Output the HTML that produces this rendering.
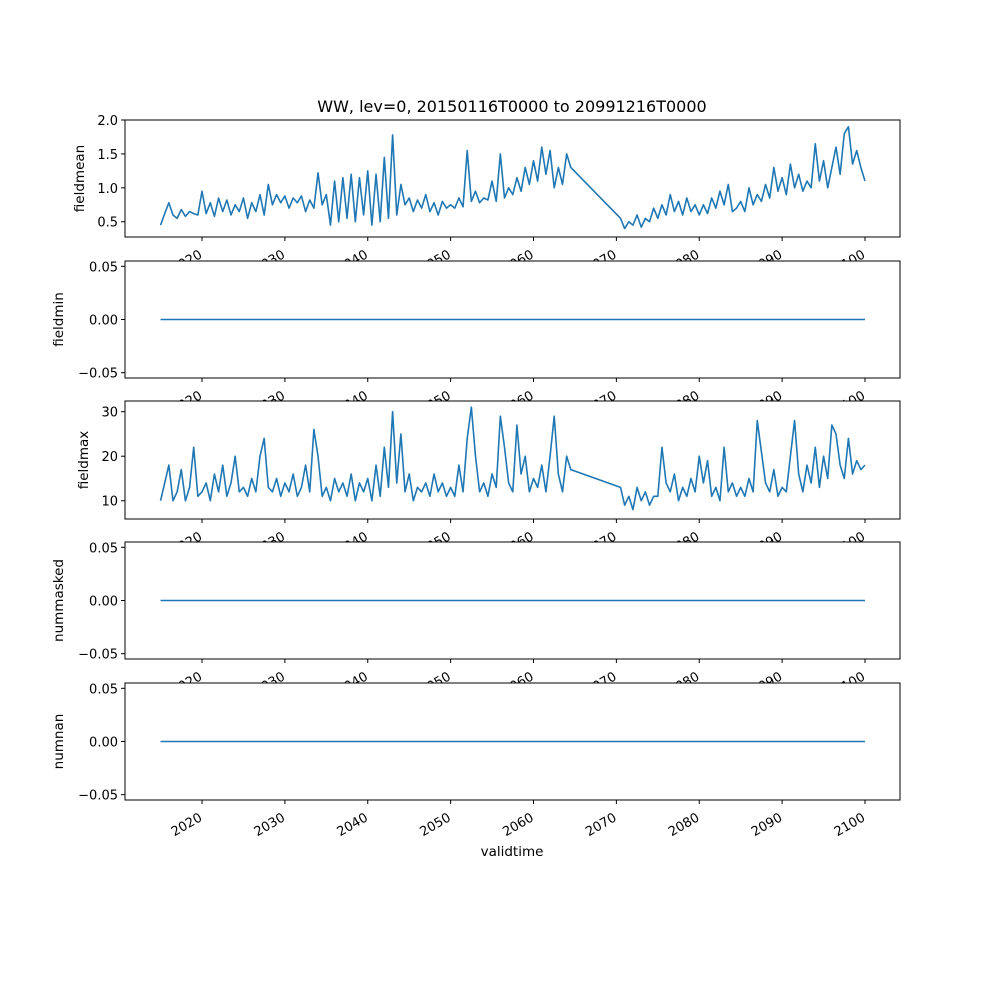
<!DOCTYPE html>
<html><head><meta charset="utf-8"><style>body{margin:0;background:#fff}svg text{font-family:"DejaVu Sans","Liberation Sans",sans-serif}</style></head>
<body>
<svg id="fig" width="1000" height="1000" viewBox="0 0 1000 1000" xmlns="http://www.w3.org/2000/svg">
<rect width="1000" height="1000" fill="#fff"/>
<text x="512" y="112" font-size="16" text-anchor="middle">WW, lev=0, 20150116T0000 to 20991216T0000</text>
<text x="512" y="856" font-size="13.5" text-anchor="middle">validtime</text>
</svg>
<script>
const xTickYears = [2020,2030,2040,2050,2060,2070,2080,2090,2100];
const segAStart = 2015.0, segBStart = 2070.5, stepYears = 0.5;
const meanSegA = [.45,.62,.78,.6,.55,.68,.58,.65,.62,.6,
.95,.62,.78,.58,.85,.65,.82,.6,.75,.65,
.85,.55,.78,.65,.9,.6,1.05,.75,.9,.78,
.88,.7,.85,.78,.88,.65,.82,.7,1.22,.75,
.9,.45,1.1,.5,1.15,.55,1.2,.5,1.15,.6,
1.25,.45,1.2,.5,1.45,.55,1.78,.6,1.05,.75,
.85,.65,.82,.7,.9,.65,.78,.6,.8,.7,
.75,.7,.85,.72,1.55,.8,.95,.78,.85,.82,
1.1,.8,1.5,.85,1.0,.9,1.15,.95,1.3,1.05,
1.4,1.1,1.6,1.2,1.55,1.0,1.3,1.05,1.5,1.3];
const meanSegB = [.55,.4,.5,.45,.6,.42,.55,.5,.7,
.55,.75,.6,.9,.65,.8,.6,.85,.65,.75,
.6,.75,.62,.85,.7,.95,.75,1.05,.65,.7,
.8,.65,1.0,.75,.9,.8,1.05,.85,1.3,.95,
1.15,.9,1.35,1.0,1.2,.95,1.1,1.0,1.65,1.1,
1.4,1.0,1.3,1.6,1.2,1.8,1.9,1.35,1.55,1.3,1.1];
const maxSegA = [10,14,18,10,12,17,10,13,22,11,
12,14,10,16,12,18,11,14,20,12,
13,11,15,12,20,24,13,12,15,11,
14,12,16,11,13,18,12,26,20,11,
13,10,15,12,14,11,16,10,14,12,
15,10,18,11,22,13,30,14,25,12,
16,10,13,12,14,11,16,12,14,11,
13,11,18,12,24,31,20,12,14,11,
16,13,29,22,14,12,27,16,20,12,
15,13,18,12,20,29,16,12,20,17];
const maxSegB = [13,9,11,8,13,10,12,9,11,
11,22,14,12,16,10,13,11,15,12,
20,14,19,11,13,10,22,12,14,11,
13,11,15,12,28,21,14,12,17,11,
13,12,20,28,16,12,18,14,22,13,
20,15,27,25,18,15,24,16,19,17,18];
const zeroEnds = [0,0];
const meanTicks = [0.5,1.0,1.5,2.0], meanTickLabels = ["0.5","1.0","1.5","2.0"];
const maxTicks = [10,20,30], maxTickLabels = ["10","20","30"];
const zeroTicks = [-0.05,0,0.05], zeroTickLabels = ["−0.05","0.00","0.05"];

const NS="http://www.w3.org/2000/svg", svg=document.getElementById('fig');
const L=125,R=900;
const xs=y=>202+(y-2020)*(865-202)/80;
function mk(t,a,p){const e=document.createElementNS(NS,t);for(const k in a)e.setAttribute(k,a[k]);(p||svg).appendChild(e);return e;}
function panel(name,top,bot,ymin,ymax,ticks,labels,series,label){
  const g=mk('g',{});
  
  
  mk('rect',{x:L,y:top,width:R-L,height:bot-top,fill:'#fff'},g);
  const ys=v=>bot-(v-ymin)/(ymax-ymin)*(bot-top);
  series.forEach(s=>{
    const pts=[];
    s.forEach(seg=>seg.vals.forEach((v,i)=>pts.push(xs(seg.start+i*seg.step).toFixed(2)+','+ys(v).toFixed(2))));
    const pl=mk('polyline',{points:pts.join(' '),fill:'none',stroke:'#1f77b4','stroke-width':1.6,'stroke-linejoin':'round'},g);
    
    
  });
  mk('rect',{x:L,y:top,width:R-L,height:bot-top,fill:'none',stroke:'#000','stroke-width':1},g);
  ticks.forEach((t,i)=>{const y=ys(t);mk('line',{x1:L-4,x2:L,y1:y,y2:y,stroke:'#000'},g);
    const tx=mk('text',{x:L-7,y:y+5,'font-size':13,'text-anchor':'end'},g);tx.textContent=labels[i];
    
    });
  xTickYears.forEach(yr=>{const x=xs(yr);mk('line',{x1:x,x2:x,y1:bot,y2:bot+4,stroke:'#000'},g);
    const ax=x+1, ay=bot+20;
    const tx=mk('text',{x:ax,y:ay,'font-size':13,'text-anchor':'end',transform:`rotate(-30 ${ax} ${ay})`},g);tx.textContent=yr;
    
    });
  const lb=mk('text',{x:0,y:0,'font-size':13.5,'text-anchor':'middle',transform:`translate(${label} ${(top+bot)/2}) rotate(-90)`},g);
  lb.textContent=name;
  
  
}
const zs=[{start:2015,step:85,vals:zeroEnds}];
panel('fieldmean',120,237,0.275,2.0,meanTicks,meanTickLabels,[[{start:segAStart,step:stepYears,vals:meanSegA},{start:segBStart,step:stepYears,vals:meanSegB}]],84);
panel('fieldmin',261,378,-0.055,0.055,zeroTicks,zeroTickLabels,[zs],63);
panel('fieldmax',401,519,5.9,32.4,maxTicks,maxTickLabels,[[{start:segAStart,step:stepYears,vals:maxSegA},{start:segBStart,step:stepYears,vals:maxSegB}]],88);
panel('nummasked',542,659,-0.055,0.055,zeroTicks,zeroTickLabels,[zs],63);
panel('numnan',683,800,-0.055,0.055,zeroTicks,zeroTickLabels,[zs],63);
</script>
</body></html>
